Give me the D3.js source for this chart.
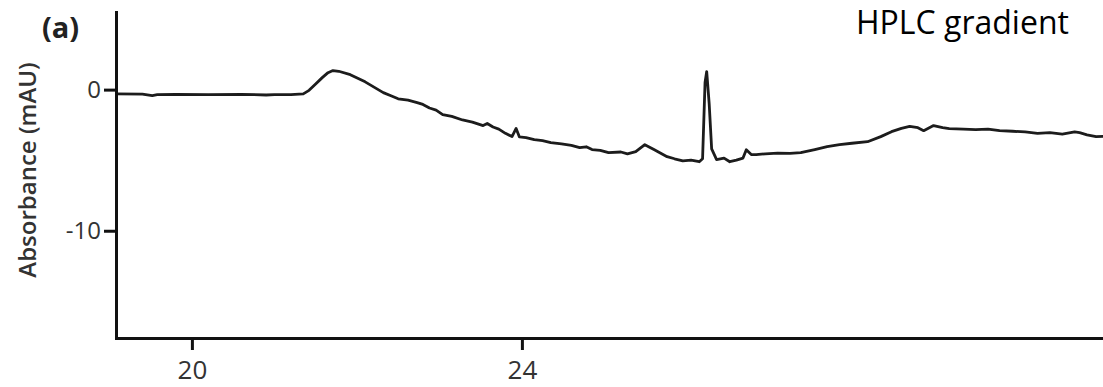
<!DOCTYPE html>
<html>
<head>
<meta charset="utf-8">
<script src="https://cdn.jsdelivr.net/npm/d3@7"></script>
<style>
  html, body { margin: 0; padding: 0; background: #fff; overflow: hidden; }
  svg { display: block; }
</style>
</head>
<body>
<svg id="svg" width="1103" height="387"></svg>
<script>
// retention time (min) and absorbance (mAU)
const time = [
  19.08, 19.40, 19.52, 19.58, 19.80, 20.20, 20.60, 20.90, 21.00, 21.20,
  21.35, 21.42, 21.50, 21.58, 21.65, 21.71, 21.78, 21.92, 22.10, 22.32,
  22.42, 22.50, 22.62, 22.73, 22.80, 22.88, 22.96, 23.04, 23.15, 23.28,
  23.40, 23.53, 23.58, 23.65, 23.72, 23.80, 23.88, 23.93, 23.97, 24.05,
  24.15, 24.25, 24.35, 24.48, 24.60, 24.70, 24.78, 24.85, 24.95, 25.05,
  25.20, 25.28, 25.38, 25.49, 25.60, 25.76, 25.85, 25.95, 26.05, 26.15,
  26.19, 26.22, 26.24, 26.27, 26.30, 26.36, 26.45, 26.52, 26.60, 26.68,
  26.72, 26.78, 26.84, 26.95, 27.10, 27.25, 27.38, 27.55, 27.70, 27.85,
  28.00, 28.19, 28.35, 28.48, 28.60, 28.70, 28.80, 28.87, 28.99, 29.10,
  29.18, 29.35, 29.50, 29.65, 29.79, 29.95, 30.10, 30.25, 30.40, 30.55,
  30.70, 30.76, 30.85, 30.96, 31.10
];
const absorbance = [
  -0.30, -0.32, -0.42, -0.36, -0.33, -0.35, -0.33, -0.38, -0.35, -0.36,
  -0.30, -0.05,  0.40,  0.85,  1.20,  1.35,  1.30,  1.06,  0.55, -0.21,
  -0.45, -0.65, -0.75, -0.92, -1.05, -1.30, -1.45, -1.77, -1.90, -2.15,
  -2.30, -2.55, -2.40, -2.65, -2.80, -3.10, -3.33, -2.75, -3.35, -3.40,
  -3.55, -3.62, -3.76, -3.85, -3.95, -4.11, -4.05, -4.25, -4.30, -4.47,
  -4.42, -4.55, -4.40, -3.90, -4.25, -4.75, -4.90, -5.05, -5.00, -5.11,
  -4.90,  0.50,  1.28, -1.00, -4.20, -4.96, -4.85, -5.11, -5.00, -4.85,
  -4.26, -4.60, -4.61, -4.55, -4.50, -4.52, -4.47, -4.25, -4.04, -3.90,
  -3.80, -3.69, -3.33, -2.98, -2.75, -2.60, -2.70, -2.91, -2.55, -2.70,
  -2.77, -2.80, -2.84, -2.80, -2.91, -2.95, -3.00, -3.10, -3.05, -3.15,
  -3.00, -3.05, -3.20, -3.33, -3.30
];
const xTicks = [20, 24];
const yTicks = [0, -10];
const xDomain = [19.08, 31.2];
const yDomain = [-17.6, 5.5];

const svg = d3.select('#svg');
const fontFamily = "'Open Sans', 'Noto Sans', sans-serif";

let x = d3.scaleLinear().domain(xDomain).range([116, 116 + (xDomain[1] - xDomain[0]) * 82.5]);
let y = d3.scaleLinear().domain(yDomain).range([338, 12]);

// trace
let points = time.map((t, i) => [t, absorbance[i]]);
let line = d3.line().x(d => x(d[0])).y(d => y(d[1]));

svg.append("path")
  .datum(points)
  .attr("fill", "none")
  .attr("stroke", "#1c1c1c")
  .attr("stroke-width", 2.8)
  .attr("stroke-linejoin", "round")
  .attr("d", line);

// axes
const gx = svg.append("g")
  .attr("transform", `translate(0,${y.range()[0]})`)
  .call(d3.axisBottom(x).tickValues(xTicks).tickSize(12).tickSizeOuter(0).tickPadding(11).tickFormat(d3.format("d")));

const gy = svg.append("g")
  .attr("transform", `translate(${x.range()[0]},0)`)
  .call(d3.axisLeft(y).tickValues(yTicks).tickSize(12).tickSizeOuter(0).tickPadding(3).tickFormat(d => d < 0 ? "-" + Math.abs(d) : d));

[gx, gy].forEach(g => {
  g.select(".domain").attr("stroke", "#111").attr("stroke-width", 3).attr("stroke-linecap", "square");
  g.selectAll(".tick line").attr("stroke", "#111").attr("stroke-width", 3);
  g.selectAll(".tick text")
    .attr("fill", "#333")
    .attr("font-family", fontFamily)
    .attr("font-size", 24);
});
gx.selectAll(".tick text").attr("font-size", 26);

// labels
svg.append("text")
  .attr("transform", "translate(36,170) rotate(-90)")
  .attr("text-anchor", "middle")
  .attr("font-family", fontFamily)
  .attr("font-size", 24)
  .attr("font-weight", 600)
  .attr("fill", "#333")
  .text("Absorbance (mAU)");

svg.append("text")
  .attr("x", 42)
  .attr("y", 38)
  .attr("font-family", fontFamily)
  .attr("font-size", 29)
  .attr("font-weight", 700)
  .attr("fill", "#222")
  .text("(a)");

svg.append("text")
  .attr("x", 856)
  .attr("y", 34)
  .attr("font-family", fontFamily)
  .attr("font-size", 32)
  .attr("fill", "#000")
  .text("HPLC gradient");
</script>
</body>
</html>
